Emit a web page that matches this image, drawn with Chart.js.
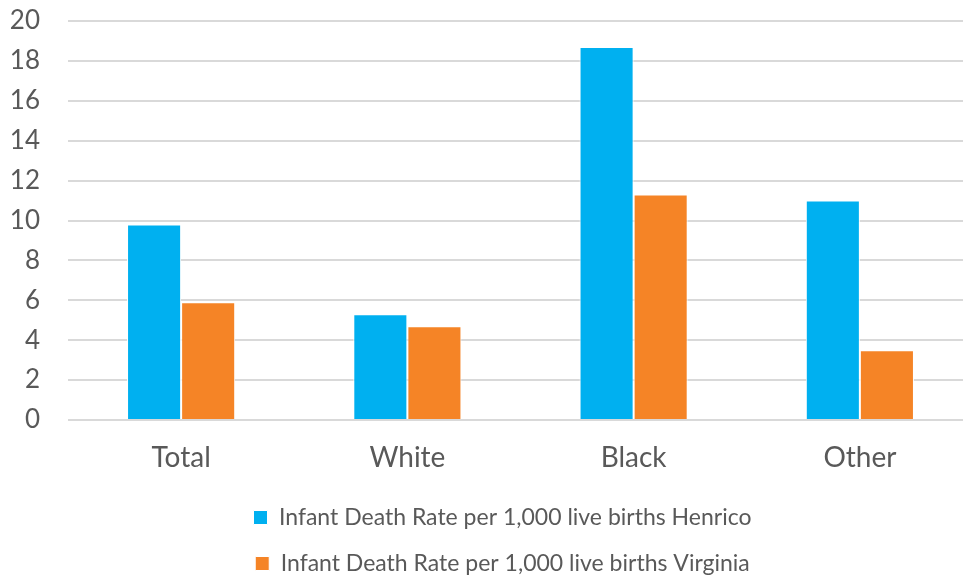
<!DOCTYPE html>
<html>
<head>
<meta charset="utf-8">
<script src="https://cdn.jsdelivr.net/npm/chart.js@4/dist/chart.umd.min.js"></script>
<style>
  html, body { margin: 0; padding: 0; background: #fff; overflow: hidden; }
  #wrap { width: 973px; height: 578px; position: relative; }
</style>
</head>
<body>
<div id="wrap"><canvas id="c"></canvas></div>
<script>
const categories = ['Total', 'White', 'Black', 'Other'];
const henricoRates = [9.8, 5.3, 18.7, 11.0];
const virginiaRates = [5.9, 4.7, 11.3, 3.5];
const yTicks = [0, 2, 4, 6, 8, 10, 12, 14, 16, 18, 20];

const FONT = 'Lato, "Open Sans", sans-serif';
const TEXT = '#595959';

// nudges the bottom legend a little to the right of the canvas centre
const legendShift = {
  id: 'legendShift',
  afterLayout(chart) {
    if (chart.legend) {
      chart.legend.left += 16;
      chart.legend.right += 16;
    }
  }
};

new Chart(document.getElementById('c'), {
  type: 'bar',
  data: {
    labels: categories,
    datasets: [
      {
        label: 'Infant Death Rate per 1,000 live births Henrico',
        data: henricoRates,
        backgroundColor: '#00B0F0',
        borderColor: '#ffffff',
        borderWidth: 1,
        borderSkipped: 'bottom'
      },
      {
        label: 'Infant Death Rate per 1,000 live births Virginia',
        data: virginiaRates,
        backgroundColor: '#F58426',
        borderColor: '#ffffff',
        borderWidth: 1,
        borderSkipped: 'bottom'
      }
    ]
  },
  options: {
    responsive: true,
    maintainAspectRatio: false,
    animation: false,
    layout: { padding: { top: 21, right: 0, left: 0, bottom: -7 } },
    datasets: { bar: { categoryPercentage: 0.478, barPercentage: 1.0 } },
    scales: {
      x: {
        grid: { display: false, drawTicks: false },
        border: { display: false },
        ticks: { color: TEXT, font: { family: FONT, size: 28 }, padding: 21 },
        afterFit: (axis) => { axis.height = 63; }
      },
      y: {
        min: 0,
        max: 20,
        afterBuildTicks: (axis) => { axis.ticks = yTicks.map(v => ({ value: v })); },
        // invisible tick marks keep the labels clear of the grid
        grid: { color: '#D9D9D9', lineWidth: 2, drawTicks: true, tickLength: 28, tickColor: 'rgba(0,0,0,0)' },
        border: { display: false },
        ticks: { color: TEXT, font: { family: FONT, size: 26 }, padding: 0 },
        afterFit: (axis) => { axis.width = 68; }
      }
    },
    plugins: {
      tooltip: { enabled: false },
      legend: {
        position: 'bottom',
        align: 'center',
        labels: {
          color: TEXT,
          font: { family: FONT, size: 23 },
          boxWidth: 14,
          boxHeight: 14,
          padding: 23
        }
      }
    }
  },
  plugins: [legendShift]
});
</script>
</body>
</html>
